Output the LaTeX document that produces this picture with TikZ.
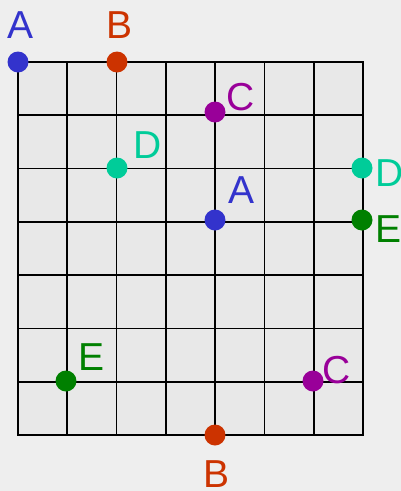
\documentclass[tikz,border=0pt]{standalone}
\usepackage{fontspec}
\setmainfont{Liberation Sans}
\definecolor{ptblue}{HTML}{3333CC}
\definecolor{ptred}{HTML}{CC3300}
\definecolor{ptpurple}{HTML}{990099}
\definecolor{ptteal}{HTML}{00CC99}
\definecolor{ptgreen}{HTML}{008000}
\definecolor{bgcol}{HTML}{EEEEEE}
\definecolor{gridcol}{HTML}{E8E8E8}
\begin{document}
\begin{tikzpicture}[x=1pt,y=-1pt,
  dot/.style={circle,fill=#1,inner sep=0pt,minimum size=21pt},
  lab/.style={text=#1,font=\fontsize{39}{39}\selectfont,inner sep=0pt,anchor=base}]
\def\gx{49.286}
\def\gy{53.286}

%% Background and board
\fill[bgcol] (0,0) rectangle (401,491);
\useasboundingbox (0,0) rectangle (401,491);
\fill[gridcol] (18,62) rectangle (363,435);
\foreach \i in {1,...,6} {
  \draw[line width=1.6pt] ({18+\i*\gx},62) -- ({18+\i*\gx},435);
  \draw[line width=1.6pt] (18,{62+\i*\gy}) -- (363,{62+\i*\gy});
}
\draw[line width=1.6pt] (18,62) rectangle (363,435);

%% Points
\node[dot=ptblue]   (a1) at (18,62)   {};
\node[dot=ptred]    (b1) at (117,62)  {};
\node[dot=ptpurple] (c1) at (215,112) {};
\node[dot=ptteal]   (d1) at (117,168) {};
\node[dot=ptteal]   (d2) at (362,168) {};
\node[dot=ptblue]   (a2) at (215,220) {};
\node[dot=ptgreen]  (e2) at (362,220) {};
\node[dot=ptgreen]  (e1) at (66,381)  {};
\node[dot=ptpurple] (c2) at (313,381) {};
\node[dot=ptred]    (b2) at (215,435) {};

%% Labels
\node[lab=ptblue]   (la1) at (21,38)   {A};
\node[lab=ptred]    (lb1) at (120,38)  {B};
\node[lab=ptpurple] (lc1) at (241,110) {C};
\node[lab=ptteal]   (ld1) at (148,158) {D};
\node[lab=ptteal]   (ld2) at (390,186) {D};
\node[lab=ptblue]   (la2) at (242,203) {A};
\node[lab=ptgreen]  (le2) at (389,242) {E};
\node[lab=ptgreen]  (le1) at (92,370)  {E};
\node[lab=ptpurple] (lc2) at (337,383) {C};
\node[lab=ptred]    (lb2) at (217,487) {B};
\end{tikzpicture}
\end{document}
